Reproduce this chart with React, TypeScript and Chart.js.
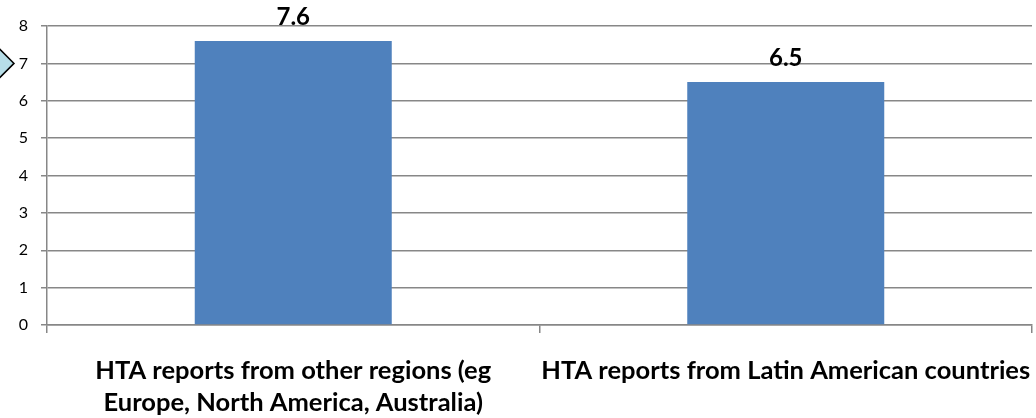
import React, { useEffect, useRef } from "react";
import { Chart, registerables } from "chart.js";

Chart.register(...registerables);

const categories: string[][] = [
  ["HTA reports from other regions (eg", "Europe, North America, Australia)"],
  ["HTA reports from Latin American countries"],
];
const values: number[] = [7.6, 6.5];
const yTicks: number[] = [0, 1, 2, 3, 4, 5, 6, 7, 8];
const markerValue = 7;

const FONT = "Lato, 'Open Sans', sans-serif";

const decorPlugin = {
  id: "decor",
  afterDraw(chart: any) {
    const ctx = chart.ctx;
    const meta = chart.getDatasetMeta(0);
    ctx.save();
    ctx.font = `bold 24px ${FONT}`;
    ctx.fillStyle = "#000";
    ctx.textAlign = "center";
    ctx.textBaseline = "alphabetic";
    meta.data.forEach((bar: any, i: number) => {
      ctx.fillText(String(values[i]), bar.x, bar.y - 16);
    });
    // diamond marker at left
    const y = chart.scales.y.getPixelForValue(markerValue);
    ctx.beginPath();
    ctx.moveTo(-1, y - 15);
    ctx.lineTo(14, y);
    ctx.lineTo(-1, y + 15);
    ctx.lineTo(-16, y);
    ctx.closePath();
    ctx.fillStyle = "#B7DEE8";
    ctx.fill();
    ctx.strokeStyle = "#000";
    ctx.lineWidth = 1.5;
    ctx.stroke();
    ctx.restore();
  },
};

export default function App() {
  const ref = useRef<HTMLCanvasElement>(null);
  useEffect(() => {
    const chart = new Chart(ref.current!, {
      type: "bar",
      data: {
        labels: categories,
        datasets: [
          {
            data: values,
            backgroundColor: "#4F81BD",
            borderWidth: 0,
            barPercentage: 0.4,
            categoryPercentage: 1,
          },
        ],
      },
      options: {
        animation: false,
        responsive: false,
        maintainAspectRatio: false,
        layout: { padding: { left: 0, right: 4, top: 26, bottom: 0 } },
        plugins: { legend: { display: false }, tooltip: { enabled: false } },
        scales: {
          x: {
            grid: {
              offset: true,
              drawOnChartArea: false,
              drawTicks: true,
              tickLength: 8,
              color: "#878787",
              lineWidth: 1.5,
            },
            border: { display: true, color: "#878787", width: 1.5 },
            ticks: {
              font: { family: FONT, size: 25.5, weight: "bold", lineHeight: 1.26 },
              color: "#000",
              padding: 22,
              maxRotation: 0,
              autoSkip: false,
            },
            afterFit(scale: any) {
              scale.height = 93;
              scale.paddingLeft = 0;
              scale.paddingRight = 0;
            },
          },
          y: {
            min: 0,
            max: 8,
            afterBuildTicks(scale: any) {
              scale.ticks = yTicks.map((v) => ({ value: v }));
            },
            grid: {
              color: "#878787",
              lineWidth: 1.5,
              tickLength: 6,
            },
            border: { display: true, color: "#878787", width: 1.5 },
            ticks: {
              font: { family: FONT, size: 16 },
              color: "#000",
              padding: 13,
            },
            afterFit(scale: any) {
              scale.width = 47;
              scale.paddingTop = 0;
              scale.paddingBottom = 0;
            },
          },
        },
      },
      plugins: [decorPlugin],
    });
    return () => chart.destroy();
  }, []);
  return (
    <div style={{ position: "absolute", left: 0, top: 0, width: 1036, height: 418 }}>
      <canvas ref={ref} width={1036} height={418} style={{ width: 1036, height: 418 }} />
    </div>
  );
}
